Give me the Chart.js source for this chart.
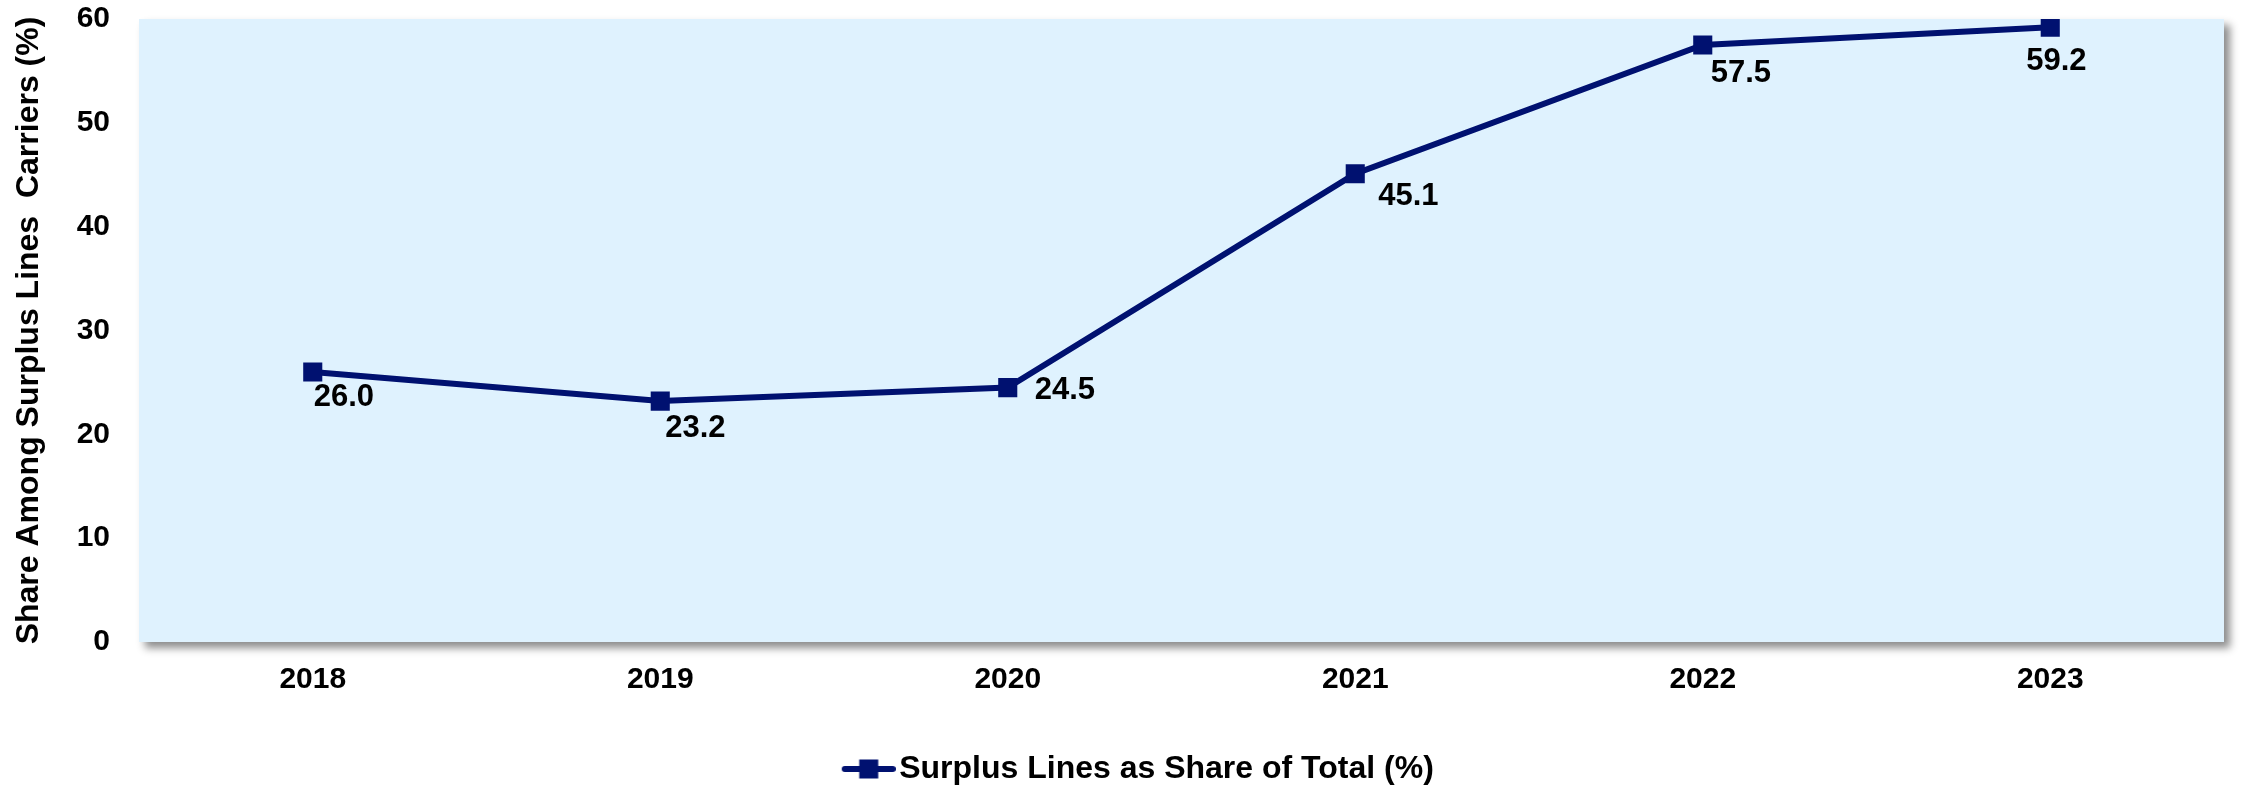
<!DOCTYPE html>
<html>
<head>
<meta charset="utf-8">
<script src="https://cdn.jsdelivr.net/npm/chart.js@4.4.0/dist/chart.umd.min.js"></script>
<style>
  html, body { margin: 0; padding: 0; background: #fff; }
  canvas { display: block; }
</style>
</head>
<body>
<canvas id="shareChart" width="2241" height="789"></canvas>
<script>
// Surplus lines share, by year
const years = ['2018', '2019', '2020', '2021', '2022', '2023'];
const surplusShare = [26.0, 23.2, 24.5, 45.1, 57.5, 59.2];
const yTicks = [0, 10, 20, 30, 40, 50, 60];

const seriesName = 'Surplus Lines as Share of Total (%)';
const yTitle = 'Share Among Surplus Lines  Carriers (%)';

const navy = '#001170';
const plotFill = '#dff2fe';
const fontFamily = "'Liberation Sans', Arial, sans-serif";

// where each value label sits relative to its point: [dx, dy to cap top]
const labelNudge = [[1, 12], [5, 14], [27, -11], [23, 9], [8, 15], [-24, 21]];

// legend symbol: short line with a square marker (left half left empty on purpose)
function legendSymbol() {
  const c = document.createElement('canvas');
  c.width = 108;
  c.height = 24;
  const g = c.getContext('2d');
  g.strokeStyle = navy;
  g.lineWidth = 6;
  g.lineCap = 'round';
  g.beginPath();
  g.moveTo(57, 12);
  g.lineTo(105, 12);
  g.stroke();
  g.fillStyle = navy;
  g.fillRect(71.5, 2.5, 19, 19);
  return c;
}

// light blue plot area with a soft drop shadow
const plotBackground = {
  id: 'plotBackground',
  beforeDraw(chart) {
    const { ctx, chartArea: a } = chart;
    ctx.save();
    ctx.shadowColor = 'rgba(0, 0, 0, 0.45)';
    ctx.shadowBlur = 8;
    ctx.shadowOffsetX = 6;
    ctx.shadowOffsetY = 6;
    ctx.fillStyle = plotFill;
    ctx.fillRect(a.left, a.top, a.right - a.left, a.bottom - a.top);
    ctx.restore();
  }
};

// value labels next to each marker
const valueLabels = {
  id: 'valueLabels',
  afterDatasetsDraw(chart) {
    const ctx = chart.ctx;
    const meta = chart.getDatasetMeta(0);
    ctx.save();
    ctx.font = `bold 31px ${fontFamily}`;
    ctx.fillStyle = '#000';
    ctx.textAlign = 'left';
    ctx.textBaseline = 'alphabetic';
    meta.data.forEach((pt, i) => {
      const [dx, dy] = labelNudge[i];
      ctx.fillText(surplusShare[i].toFixed(1), pt.x + dx, pt.y + dy + 22);
    });
    ctx.restore();
  }
};

const tickFont = { family: fontFamily, size: 30, weight: 'bold' };

new Chart(document.getElementById('shareChart'), {
  type: 'line',
  data: {
    labels: years,
    datasets: [{
      label: seriesName,
      data: surplusShare,
      borderColor: navy,
      backgroundColor: navy,
      borderWidth: 6,
      pointStyle: 'rect',
      pointRadius: 13.5,
      pointBorderWidth: 0,
      pointBackgroundColor: navy,
      tension: 0
    }]
  },
  options: {
    responsive: false,
    animation: false,
    layout: { padding: { left: 10, top: 19, right: 17, bottom: -6 } },
    scales: {
      x: {
        offset: true,
        // tick marks hidden; tickLength only spaces the labels
        grid: { display: false, drawTicks: true, tickLength: 20 },
        border: { display: false },
        ticks: { font: tickFont, color: '#000', padding: 0 },
        afterFit(s) { s.height = 101; }
      },
      y: {
        min: 0,
        max: 60,
        grid: { display: false, drawTicks: true, tickLength: 29 },
        border: { display: false },
        afterBuildTicks(s) { s.ticks = yTicks.map(v => ({ value: v })); },
        ticks: { font: tickFont, color: '#000', padding: 0 },
        title: {
          display: true,
          text: yTitle,
          color: '#000',
          padding: 0,
          font: { family: fontFamily, size: 32, weight: 'bold' }
        },
        afterFit(s) { s.width = 129; }
      }
    },
    plugins: {
      tooltip: { enabled: false },
      legend: {
        position: 'bottom',
        labels: {
          color: '#000',
          font: { family: fontFamily, size: 32, weight: 'bold' },
          usePointStyle: true,
          pointStyleWidth: 83,
          boxHeight: 24,
          padding: 10,
          generateLabels: () => [{
            text: seriesName,
            pointStyle: legendSymbol(),
            fillStyle: navy,
            strokeStyle: navy,
            lineWidth: 0,
            datasetIndex: 0
          }]
        }
      }
    }
  },
  plugins: [plotBackground, valueLabels]
});
</script>
</body>
</html>
